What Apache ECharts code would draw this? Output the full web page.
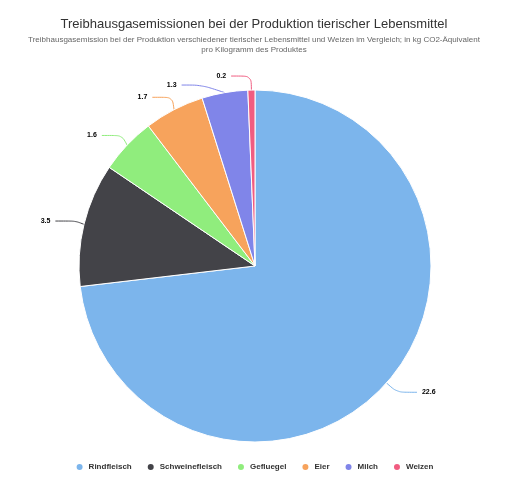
<!DOCTYPE html>
<html>
<head>
<meta charset="utf-8">
<script src="https://cdn.jsdelivr.net/npm/echarts@6/dist/echarts.min.js"></script>
<style>
html, body { margin: 0; padding: 0; background: #fff; }
#main { width: 508px; height: 480px; }
</style>
</head>
<body>
<div id="main"></div>
<script>
var categories = ['Rindfleisch', 'Schweinefleisch', 'Gefluegel', 'Eier', 'Milch', 'Weizen'];
var values = [22.6, 3.5, 1.6, 1.7, 1.3, 0.2];
var colors = ['#7cb5ec', '#434348', '#90ed7d', '#f7a35c', '#8085e9', '#f15c80'];

onload = function () {
    var myChart = echarts.init(document.getElementById('main'));
    var pieData = categories.map(function (name, i) {
        return { name: name, value: values[i] };
    });
    myChart.setOption({
        backgroundColor: '#fff',
        color: colors,
        title: {
            text: 'Treibhausgasemissionen bei der Produktion tierischer Lebensmittel',
            subtext: 'Treibhausgasemission bei der Produktion verschiedener tierischer Lebensmittel und Weizen im Vergleich; in kg CO2-Äquivalent\npro Kilogramm des Produktes',
            left: 'center',
            top: 13,
            itemGap: 4,
            textStyle: { fontFamily: 'Liberation Sans', fontSize: 13, fontWeight: 'normal', color: '#333' },
            subtextStyle: { fontFamily: 'Liberation Sans', fontSize: 8, color: '#666', lineHeight: 10 }
        },
        legend: {
            bottom: 3,
            left: 'center',
            icon: 'circle',
            itemWidth: 8,
            itemHeight: 8,
            itemGap: 14,
            textStyle: { fontFamily: 'Liberation Sans', fontSize: 8, fontWeight: 'bold', color: '#333' }
        },
        series: [{
            type: 'pie',
            center: [255, 266],
            radius: 176,
            startAngle: 90,
            clockwise: true,
            data: pieData,
            itemStyle: { borderColor: '#fff', borderWidth: 1 },
            label: {
                formatter: '{c}',
                fontFamily: 'Liberation Sans',
                fontSize: 7,
                fontWeight: 'bold',
                color: '#000'
            },
            labelLine: { length: 14, length2: 20, smooth: 0.3, lineStyle: { width: 1 } },
            emphasis: { scale: false }
        }]
    });
};
</script>
</body>
</html>
